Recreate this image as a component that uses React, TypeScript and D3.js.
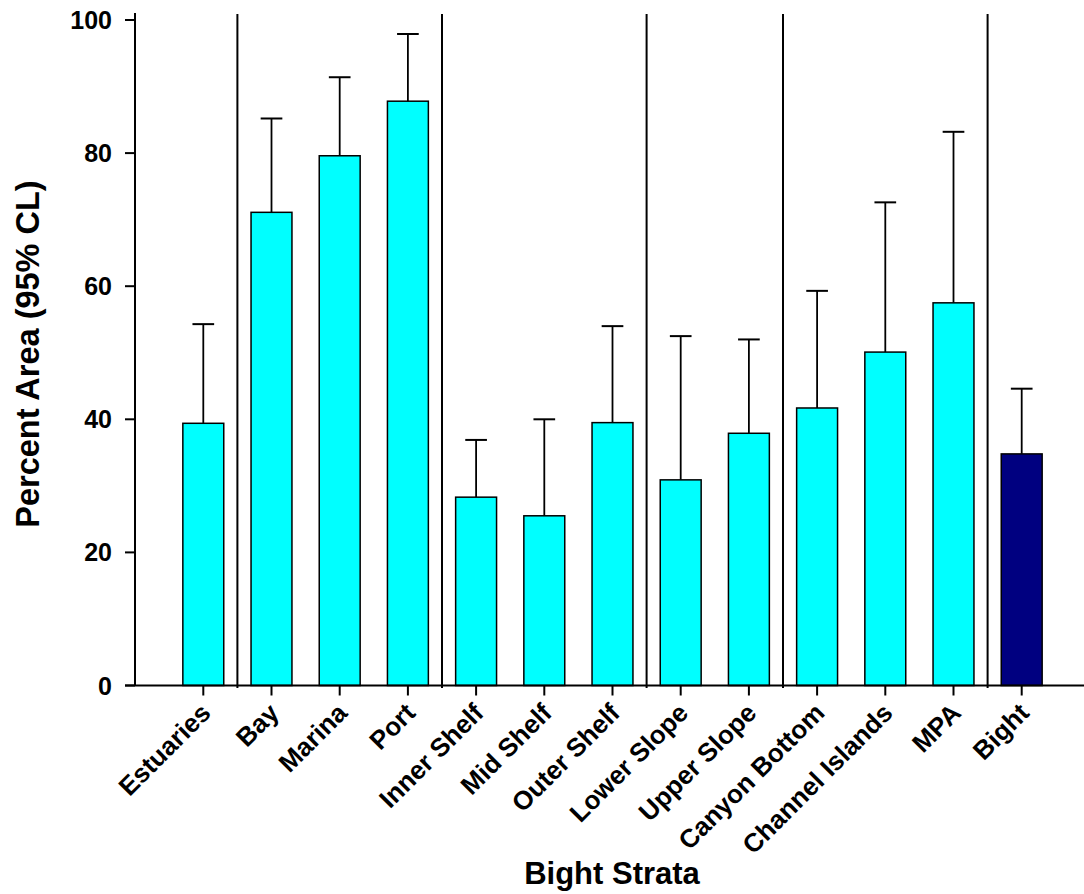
import React from "react";
import * as d3 from "d3";

const categories = [
  "Estuaries", "Bay", "Marina", "Port", "Inner Shelf", "Mid Shelf", "Outer Shelf",
  "Lower Slope", "Upper Slope", "Canyon Bottom", "Channel Islands", "MPA", "Bight",
];
const percentArea = [39.4, 71.1, 79.6, 87.8, 28.3, 25.5, 39.5, 30.9, 37.9, 41.7, 50.1, 57.5, 34.8];
const upperCL = [54.3, 85.2, 91.4, 97.9, 36.9, 40.0, 54.0, 52.5, 52.0, 59.3, 72.6, 83.2, 44.6];
const groupBreaksAfter = ["Estuaries", "Port", "Outer Shelf", "Upper Slope", "MPA"];
const highlighted = ["Bight"];
const yTicks = [0, 20, 40, 60, 80, 100];

const W = 1084;
const H = 894;
const FONT = "'Liberation Sans', Arial, sans-serif";

export default function App() {
  const x = d3.scaleBand<string>().domain(categories).range([169.2, 1055.8]).padding(0);
  const y = d3.scaleLinear().domain([0, 100]).range([685.5, 20]);
  const bw = x.bandwidth() * 0.6;
  const capW = bw * 0.53;
  const axisX = 135;
  const axisY = y(0);

  return (
    <svg width={W} height={H} style={{ position: "absolute", left: 0, top: 0, background: "#fff" }}>
      {/* separators */}
      {groupBreaksAfter.map((c) => {
        const sx = (x(c) as number) + x.bandwidth();
        return <line key={c} x1={sx} x2={sx} y1={14} y2={688} stroke="#000" strokeWidth={2} />;
      })}
      {/* error bars */}
      {categories.map((c, i) => {
        const cx = (x(c) as number) + x.bandwidth() / 2;
        return (
          <g key={"e" + c}>
            <line x1={cx} x2={cx} y1={y(upperCL[i])} y2={y(percentArea[i])} stroke="#000" strokeWidth={1.8} />
            <line x1={cx - capW / 2} x2={cx + capW / 2} y1={y(upperCL[i])} y2={y(upperCL[i])} stroke="#000" strokeWidth={2} />
          </g>
        );
      })}
      {/* bars */}
      {categories.map((c, i) => {
        const cx = (x(c) as number) + x.bandwidth() / 2;
        return (
          <rect
            key={"b" + c}
            x={cx - bw / 2}
            y={y(percentArea[i])}
            width={bw}
            height={axisY - y(percentArea[i])}
            fill={highlighted.includes(c) ? "#000080" : "#00FFFF"}
            stroke="#000"
            strokeWidth={1.5}
          />
        );
      })}
      {/* y axis */}
      <line x1={axisX} x2={axisX} y1={13} y2={axisY} stroke="#000" strokeWidth={2} />
      {yTicks.map((t) => (
        <g key={"yt" + t}>
          <line x1={axisX - 10} x2={axisX} y1={y(t)} y2={y(t)} stroke="#000" strokeWidth={2} />
          <text
            x={112}
            y={y(t)}
            dy="0.36em"
            textAnchor="end"
            fontFamily={FONT}
            fontWeight="bold"
            fontSize={25}
          >
            {t}
          </text>
        </g>
      ))}
      {/* x axis */}
      <line x1={axisX - 10} x2={1084} y1={axisY} y2={axisY} stroke="#000" strokeWidth={2} />
      {categories.map((c) => {
        const cx = (x(c) as number) + x.bandwidth() / 2;
        return (
          <g key={"xt" + c}>
            <line x1={cx} x2={cx} y1={axisY} y2={axisY + 10} stroke="#000" strokeWidth={2} />
            <text
              transform={`translate(${cx + 9},${axisY + 29}) rotate(-45)`}
              textAnchor="end"
              fontFamily={FONT}
              fontWeight="bold"
              fontSize={26}
            >
              {c}
            </text>
          </g>
        );
      })}
      {/* titles */}
      <text x={612} y={884} textAnchor="middle" fontFamily={FONT} fontWeight="bold" fontSize={31}>
        Bight Strata
      </text>
      <text
        transform={`translate(39,354) rotate(-90)`}
        textAnchor="middle"
        fontFamily={FONT}
        fontWeight="bold"
        fontSize={32.5}
      >
        Percent Area (95% CL)
      </text>
    </svg>
  );
}
